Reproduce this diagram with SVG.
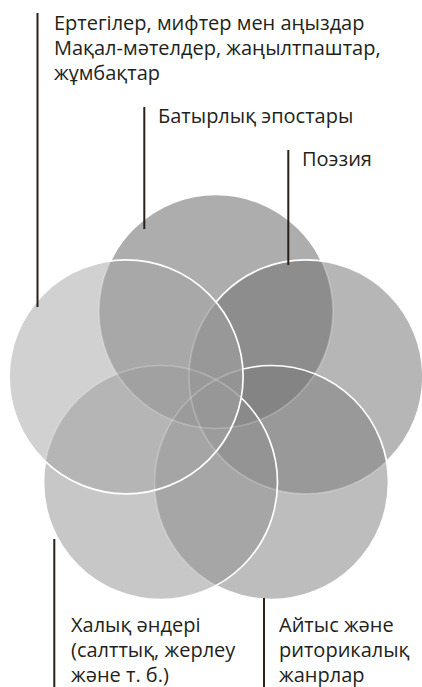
<svg xmlns="http://www.w3.org/2000/svg" width="422" height="687" viewBox="0 0 422 687">
<style>
.c{stroke:none;fill-opacity:0.5}
.s{fill:none;stroke:#ffffff;stroke-width:1.7}
.mk{fill:#3a3a3a}
.t{font-family:"Open Sans","Noto Sans",sans-serif;font-size:20px;fill:#231f1a}
.ln{stroke:#2a2018;stroke-width:2;fill:none}
</style>
<defs>
<circle id="cT" cx="216" cy="311.5" r="117"/>
<circle id="cR" cx="305.9" cy="376.8" r="117"/>
<circle id="cBR" cx="271.5" cy="482.5" r="117"/>
<circle id="cBL" cx="160.5" cy="482.5" r="117"/>
<circle id="cL" cx="126.1" cy="376.8" r="117"/>
<mask id="mT" maskUnits="userSpaceOnUse" x="0" y="0" width="422" height="687">
<rect width="422" height="687" fill="#ffffff"/>
<use href="#cR" class="mk"/><use href="#cBR" class="mk"/><use href="#cBL" class="mk"/><use href="#cL" class="mk"/>
</mask>
<mask id="mR" maskUnits="userSpaceOnUse" x="0" y="0" width="422" height="687">
<rect width="422" height="687" fill="#ffffff"/>
<use href="#cBR" class="mk"/><use href="#cBL" class="mk"/><use href="#cL" class="mk"/>
</mask>
<mask id="mBR" maskUnits="userSpaceOnUse" x="0" y="0" width="422" height="687">
<rect width="422" height="687" fill="#ffffff"/>
<use href="#cBL" class="mk"/><use href="#cL" class="mk"/>
</mask>
<mask id="mBL" maskUnits="userSpaceOnUse" x="0" y="0" width="422" height="687">
<rect width="422" height="687" fill="#ffffff"/>
<use href="#cL" class="mk"/>
</mask>
</defs>
<rect width="422" height="687" fill="#ffffff"/>
<g id="circles">
<g id="node-batyrlyq"><use href="#cT" class="c" fill="#5b5b5b"/></g>
<g id="node-poeziya"><use href="#cR" class="c" fill="#6d6d6d"/></g>
<g id="node-aitys"><use href="#cBR" class="c" fill="#7b7b7b"/></g>
<g id="node-halyq"><use href="#cBL" class="c" fill="#8f8f8f"/></g>
<g id="node-ertegiler"><use href="#cL" class="c" fill="#a3a3a3"/></g>
</g>
<g id="outlines">
<use href="#cT" class="s" mask="url(#mT)"/>
<use href="#cR" class="s" mask="url(#mR)"/>
<use href="#cBR" class="s" mask="url(#mBR)"/>
<use href="#cBL" class="s" mask="url(#mBL)"/>
<use href="#cL" class="s"/>
</g>
<g id="connectors">
<line class="ln" x1="37.5" y1="13" x2="37.5" y2="307"/>
<line class="ln" x1="144.3" y1="107" x2="144.3" y2="229"/>
<line class="ln" x1="288.3" y1="150" x2="288.3" y2="265"/>
<line class="ln" x1="54.3" y1="539" x2="54.3" y2="687"/>
<line class="ln" x1="264" y1="598" x2="264" y2="687"/>
</g>
<g id="labels">
<g id="label-ertegiler">
<text class="t" x="54" y="30">Ертегілер, мифтер мен аңыздар</text>
<text class="t" x="54" y="55">Мақал-мәтелдер, жаңылтпаштар,</text>
<text class="t" x="54" y="80">жұмбақтар</text>
</g>
<g id="label-batyrlyq"><text class="t" x="158" y="123">Батырлық эпостары</text></g>
<g id="label-poeziya"><text class="t" x="302" y="166">Поэзия</text></g>
<g id="label-halyq">
<text class="t" x="71" y="632">Халық әндері</text>
<text class="t" x="71" y="657">(салттық, жерлеу</text>
<text class="t" x="71" y="682">және т. б.)</text>
</g>
<g id="label-aitys">
<text class="t" x="279" y="632">Айтыс және</text>
<text class="t" x="279" y="657">риторикалық</text>
<text class="t" x="279" y="682">жанрлар</text>
</g>
</g>
</svg>
